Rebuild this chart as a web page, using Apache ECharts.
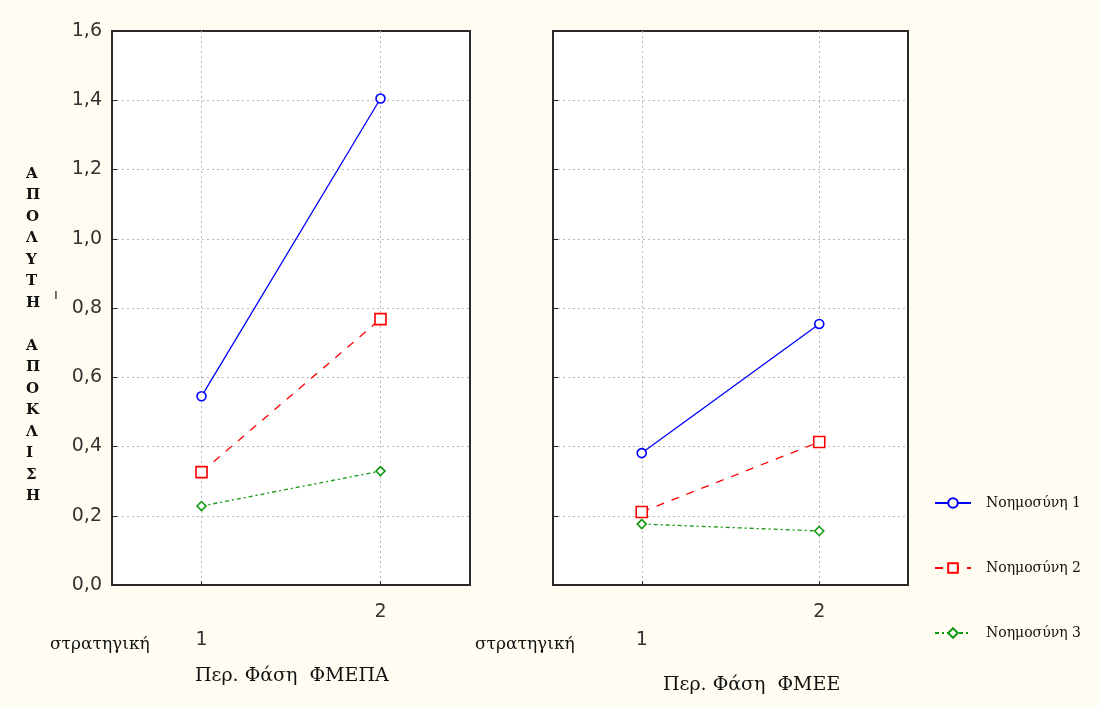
<!DOCTYPE html>
<html>
<head>
<meta charset="utf-8">
<script src="https://cdn.jsdelivr.net/npm/echarts@6/dist/echarts.min.js"></script>
<style>
  html, body { margin: 0; padding: 0; background: #fffdf2; }
  #chart { width: 1100px; height: 707px; }
</style>
</head>
<body>
<div id="chart"></div>
<script>
// Phase levels (στρατηγική) on the x axis of each panel
var categories = ['1', '2'];

// Mean absolute deviation per intelligence group, panel ΦΜΕΠΑ
var fmepaN1 = [0.545, 1.405];
var fmepaN2 = [0.326, 0.768];
var fmepaN3 = [0.228, 0.329];

// Same groups, panel ΦΜΕΕ
var fmeeN1 = [0.381, 0.754];
var fmeeN2 = [0.211, 0.413];
var fmeeN3 = [0.176, 0.156];

var seriesNames = ['Νοημοσύνη 1', 'Νοημοσύνη 2', 'Νοημοσύνη 3'];
var yTicks = { min: 0, max: 1.6, step: 0.2 };
var panelTitles = ['Περ. Φάση  ΦΜΕΠΑ', 'Περ. Φάση  ΦΜΕΕ'];
var yTitle = 'ΑΠΟΛΥΤΗ ΑΠΟΚΛΙΣΗ';

var sansFont = '"DejaVu Sans", Arial, sans-serif';
var serifFont = '"DejaVu Serif", "Liberation Serif", serif';

var styles = [
  { color: '#0000ff', type: 'solid', symbol: 'circle', size: 9 },
  { color: '#ff0000', type: [8, 8], symbol: 'rect', size: 11 },
  { color: '#119911', type: [4, 3, 2, 3], symbol: 'diamond', size: 9 }
];

function makeSeries(name, data, idx, styleIdx) {
  var s = styles[styleIdx];
  return {
    name: name,
    type: 'line',
    xAxisIndex: idx,
    yAxisIndex: idx,
    data: data,
    symbol: s.symbol,
    symbolSize: s.size,
    showSymbol: true,
    itemStyle: { color: '#ffffff', borderColor: s.color, borderWidth: 1.6 },
    lineStyle: { color: s.color, width: 1.3, type: s.type },
    emphasis: { disabled: true },
    silent: true,
    animation: false
  };
}

// vertical stacked y title
var stacked = yTitle.split(' ').map(function (w) { return w.split('').join('\n'); }).join('\n\n');

var gridLine = { color: '#b8b8b8', type: [2, 3], width: 1 };

function xAxisFor(idx) {
  return {
    type: 'category',
    gridIndex: idx,
    data: categories,
    boundaryGap: true,
    axisLine: { show: false },
    axisTick: { show: true, inside: true, alignWithLabel: true, length: 4, lineStyle: { color: '#222' } },
    splitLine: { show: true, alignWithLabel: true, lineStyle: gridLine },
    axisLabel: {
      interval: 0,
      margin: 13,
      fontFamily: sansFont,
      fontSize: 19,
      color: '#333',
      lineHeight: 28,
      formatter: function (v) { return v === '1' ? '\n' + v : v; }
    }
  };
}

function yAxisFor(idx, showLabels) {
  return {
    type: 'value',
    gridIndex: idx,
    min: yTicks.min,
    max: yTicks.max,
    interval: yTicks.step,
    axisLine: { show: false },
    axisTick: { show: true, inside: true, length: 5, lineStyle: { color: '#222' } },
    splitLine: { show: true, showMinLine: false, showMaxLine: false, lineStyle: gridLine },
    axisLabel: {
      show: showLabels,
      margin: 10,
      fontFamily: sansFont,
      fontSize: 19,
      color: '#333',
      formatter: function (v) { return v.toFixed(1).replace('.', ','); }
    }
  };
}

var chart = echarts.init(document.getElementById('chart'), null, { renderer: 'canvas' });

chart.setOption({
  backgroundColor: '#fffdf2',
  animation: false,
  grid: [
    { left: 112, top: 31, width: 358, height: 554, show: true, backgroundColor: '#ffffff', borderColor: '#2a2a2a', borderWidth: 2 },
    { left: 553, top: 31, width: 355, height: 554, show: true, backgroundColor: '#ffffff', borderColor: '#2a2a2a', borderWidth: 2 }
  ],
  xAxis: [xAxisFor(0), xAxisFor(1)],
  yAxis: [yAxisFor(0, true), yAxisFor(1, false)],
  legend: {
    orient: 'vertical',
    left: 929,
    top: 491,
    itemWidth: 36,
    itemHeight: 12,
    itemGap: 51,
    data: seriesNames,
    textStyle: { fontFamily: serifFont, fontSize: 14, color: '#111', padding: [12, 0, 0, 10] },
    selectedMode: false
  },
  series: [
    makeSeries(seriesNames[0], fmepaN1, 0, 0),
    makeSeries(seriesNames[1], fmepaN2, 0, 1),
    makeSeries(seriesNames[2], fmepaN3, 0, 2),
    makeSeries(seriesNames[0], fmeeN1, 1, 0),
    makeSeries(seriesNames[1], fmeeN2, 1, 1),
    makeSeries(seriesNames[2], fmeeN3, 1, 2)
  ],
  graphic: [
    {
      type: 'text', left: 26, top: 163,
      style: { text: stacked, fontFamily: serifFont, fontSize: 15, fontWeight: 'bold', lineHeight: 21.5, fill: '#111', align: 'center' }
    },
    {
      type: 'text', left: 54, top: 288,
      style: { text: 'ı', fontFamily: sansFont, fontSize: 14, fill: '#222' }
    },
    {
      type: 'text', left: 50, top: 636,
      style: { text: 'στρατηγική', fontFamily: serifFont, fontSize: 17, fill: '#111' }
    },
    {
      type: 'text', left: 475, top: 636,
      style: { text: 'στρατηγική', fontFamily: serifFont, fontSize: 17, fill: '#111' }
    },
    {
      type: 'text', left: 195, top: 667,
      style: { text: panelTitles[0], fontFamily: serifFont, fontSize: 19, fill: '#111' }
    },
    {
      type: 'text', left: 663, top: 676,
      style: { text: panelTitles[1], fontFamily: serifFont, fontSize: 19, fill: '#111' }
    }
  ]
});
</script>
</body>
</html>
